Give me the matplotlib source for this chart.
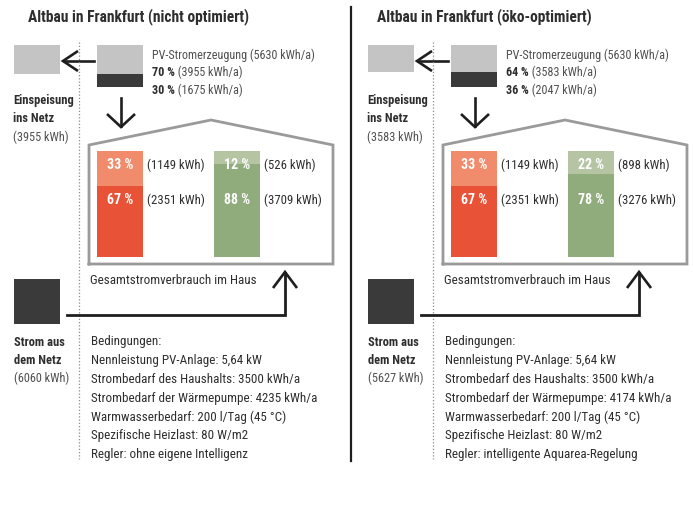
import matplotlib
matplotlib.use("Agg")
import matplotlib.pyplot as plt
from matplotlib.patches import Rectangle

plt.rcParams["font.family"] = ["Roboto Condensed", "DejaVu Sans"]
plt.rcParams["font.stretch"] = "condensed"

# ── Data ────────────────────────────────────────────────────
titles = ["Altbau in Frankfurt (nicht optimiert)", "Altbau in Frankfurt (öko-optimiert)"]
pv_total_kwh = [5630, 5630]
pv_feed_pct = [70, 64]
pv_feed_kwh = [3955, 3583]
pv_self_pct = [30, 36]
pv_self_kwh = [1675, 2047]
grid_kwh = [6060, 5627]
house_pv_pct = [33, 33]
house_pv_kwh = [1149, 1149]
house_grid_pct = [67, 67]
house_grid_kwh = [2351, 2351]
hp_pv_pct = [12, 22]
hp_pv_kwh = [526, 898]
hp_grid_pct = [88, 78]
hp_grid_kwh = [3709, 3276]
hp_demand = [4235, 4174]
controller = ["ohne eigene Intelligenz", "intelligente Aquarea-Regelung"]

# ── Style ───────────────────────────────────────────────────
TXT = "#2e2e2e"
GRAY_TXT = "#505050"
BOX_LIGHT = "#c4c4c4"
BOX_DARK = "#3a3a3a"
RED_L, RED_D = "#f08b6c", "#e85237"
GRN_L, GRN_D = "#b5c5a4", "#90ab7c"
LINE = "#1e1e1e"
HOUSE = "#9a9a9a"
FS = 9.35
FS_PV = 8.7
FS_SIDE = 9.0
FS_BAR = 9.2
FS_PCT = 10.0

fig = plt.figure(figsize=(6.93, 5.06), dpi=100)
ax = fig.add_axes([0, 0, 1, 1])
ax.set_xlim(0, 693)
ax.set_ylim(506, 0)
ax.axis("off")


def chevron(x, y, dx1, dy1, dx2, dy2):
    ax.plot([x + dx1, x, x + dx2], [y + dy1, y, y + dy2], color=LINE, lw=1.9,
            solid_joinstyle="miter", solid_capstyle="butt")


def draw_panel(i, ox, title_x):
    ax.text(title_x, 17, titles[i], fontsize=11.2, weight="bold", color=TXT,
            ha="left", va="center")

    # PV generation box, split into self use (dark) and feed-in (light)
    pv_h = 42 / 100
    pv_x, pv_top, pv_w = ox + 97, 46, 46
    ax.add_patch(Rectangle((pv_x, pv_top), pv_w, pv_feed_pct[i] * pv_h, color=BOX_LIGHT, lw=0))
    ax.add_patch(Rectangle((pv_x, pv_top + pv_feed_pct[i] * pv_h), pv_w,
                           pv_self_pct[i] * pv_h, color=BOX_DARK, lw=0))
    # feed-in box
    ax.add_patch(Rectangle((ox + 14, pv_top), 46, pv_feed_pct[i] * pv_h, color=BOX_LIGHT, lw=0))

    ax.text(ox + 152, 55, f"PV-Stromerzeugung ({pv_total_kwh[i]} kWh/a)", fontsize=FS_PV,
            color=GRAY_TXT, ha="left", va="center")
    for y, pct, kwh in [(72, pv_feed_pct[i], pv_feed_kwh[i]), (90, pv_self_pct[i], pv_self_kwh[i])]:
        t = ax.text(ox + 152, y, f"{pct} %", fontsize=FS_PV, weight="bold", color=TXT,
                    ha="left", va="center")
        ax.annotate(f" ({kwh} kWh/a)", xy=(1, 0.5), xycoords=t, fontsize=FS_PV,
                    color=GRAY_TXT, ha="left", va="center")

    # arrows: PV -> feed-in, PV -> house
    ax.plot([ox + 94, ox + 64], [62, 62], color=LINE, lw=1.9)
    chevron(ox + 63, 62, 15, -10, 15, 10)
    ax.plot([ox + 121, ox + 121], [99, 127], color=LINE, lw=1.9)
    chevron(ox + 121, 128, -14, -13, 14, -13)

    ax.text(ox + 13, 100, "Einspeisung", fontsize=FS_SIDE, weight="bold", color=TXT, va="center")
    ax.text(ox + 13, 118, "ins Netz", fontsize=FS_SIDE, weight="bold", color=TXT, va="center")
    ax.text(ox + 13, 137, f"({pv_feed_kwh[i]} kWh)", fontsize=FS_SIDE - 0.2, color=GRAY_TXT,
            va="center")

    # dotted separator
    ax.plot([ox + 79, ox + 79], [43, 460], color="#8a8a8a", lw=0.9, ls=(0, (1, 1.6)))

    # house outline
    hx0, hx1, hy_eave, hy_bot = ox + 89, ox + 333, 146, 265
    ax.plot([hx0, hx0, ox + 211, hx1, hx1, hx0],
            [hy_bot, hy_eave, 121, hy_eave, hy_bot, hy_bot], color=HOUSE, lw=2.0,
            solid_joinstyle="miter")

    # stacked bars: household and heat pump, PV share on top
    bar_top, bar_h = 152, 106 / 100
    for bx, pv_pct, gr_pct, pv_kwh, gr_kwh, cl, cd in [
        (ox + 97, house_pv_pct[i], house_grid_pct[i], house_pv_kwh[i], house_grid_kwh[i], RED_L, RED_D),
        (ox + 214, hp_pv_pct[i], hp_grid_pct[i], hp_pv_kwh[i], hp_grid_kwh[i], GRN_L, GRN_D),
    ]:
        ax.add_patch(Rectangle((bx, bar_top), 46, pv_pct * bar_h, color=cl, lw=0))
        ax.add_patch(Rectangle((bx, bar_top + pv_pct * bar_h), 46, gr_pct * bar_h, color=cd, lw=0))
        ax.text(bx + 23, 165, f"{pv_pct} %", fontsize=FS_PCT, weight="bold", color="white",
                ha="center", va="center")
        ax.text(bx + 23, 200, f"{gr_pct} %", fontsize=FS_PCT, weight="bold", color="white",
                ha="center", va="center")
        ax.text(bx + 50, 165, f"({pv_kwh} kWh)", fontsize=FS_BAR, color=TXT, ha="left", va="center")
        ax.text(bx + 50, 200, f"({gr_kwh} kWh)", fontsize=FS_BAR, color=TXT, ha="left", va="center")

    ax.text(ox + 90, 280, "Gesamtstromverbrauch im Haus", fontsize=FS, color=TXT, va="center")

    # grid supply box and arrow into the house
    ax.add_patch(Rectangle((ox + 14, 280), 46, 45, color=BOX_DARK, lw=0))
    ax.plot([ox + 67, ox + 285, ox + 285], [316, 316, 274], color=LINE, lw=2.0,
            solid_joinstyle="miter")
    chevron(ox + 285, 273, -12, 16, 12, 16)

    ax.text(ox + 14, 342, "Strom aus", fontsize=FS_SIDE, weight="bold", color=TXT, va="center")
    ax.text(ox + 14, 360, "dem Netz", fontsize=FS_SIDE, weight="bold", color=TXT, va="center")
    ax.text(ox + 14, 378, f"({grid_kwh[i]} kWh)", fontsize=FS_SIDE - 0.2, color=GRAY_TXT,
            va="center")

    conditions = [
        "Bedingungen:",
        "Nennleistung PV-Anlage: 5,64 kW",
        "Strombedarf des Haushalts: 3500 kWh/a",
        f"Strombedarf der Wärmepumpe: {hp_demand[i]} kWh/a",
        "Warmwasserbedarf: 200 l/Tag (45 °C)",
        "Spezifische Heizlast: 80 W/m2",
        f"Regler: {controller[i]}",
    ]
    for k, line in enumerate(conditions):
        ax.text(ox + 91, 342 + k * 18.8, line, fontsize=FS, color=TXT, va="center")


draw_panel(0, 0, 28)
draw_panel(1, 354, 377)

# panel divider
ax.plot([351, 351], [8, 462], color="#1e1e1e", lw=1.6)

fig.savefig("out.png", dpi=100, facecolor="white")
